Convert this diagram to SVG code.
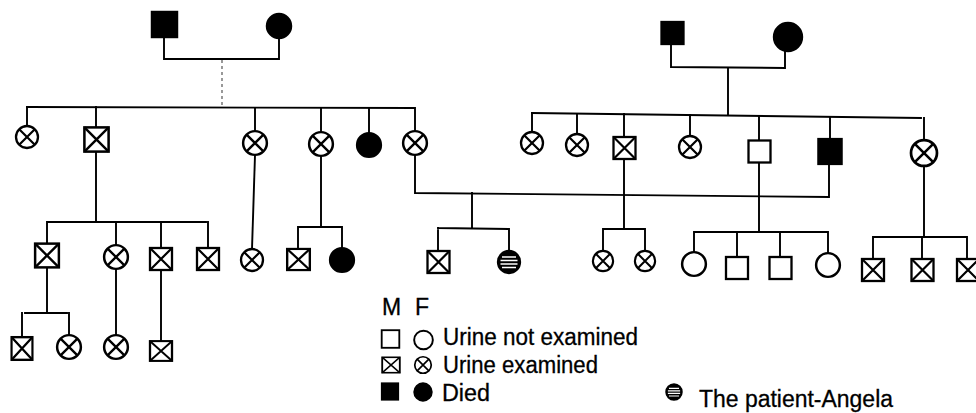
<svg xmlns="http://www.w3.org/2000/svg" xmlns:xlink="http://www.w3.org/1999/xlink" width="976" height="413" viewBox="0 0 976 413">
<style>
.ln{fill:none;stroke:#000;stroke-width:1.9;stroke-linecap:square}
.dash{fill:none;stroke:#555;stroke-width:1.2;stroke-dasharray:3 3}
.txt{font-family:"Liberation Sans",Arial,sans-serif;font-size:23px;fill:#000;stroke:#000;stroke-width:0.3}
</style>
<defs>
<g id="MU"><rect x="-11" y="-11" width="22" height="22" fill="#fff" stroke="#000" stroke-width="2.3"/></g>
<g id="MX"><rect x="-11" y="-11" width="22" height="22" fill="#fff" stroke="#000" stroke-width="2.3"/><path d="M-11,-11L11,11M11,-11L-11,11" stroke="#000" stroke-width="2.2" fill="none"/></g>
<g id="MD"><rect x="-11" y="-11" width="22" height="22" fill="#000" stroke="#000" stroke-width="2.3"/></g>
<g id="FU"><circle r="11" fill="#fff" stroke="#000" stroke-width="2.3"/></g>
<g id="FX"><circle r="11" fill="#fff" stroke="#000" stroke-width="2.3"/><path d="M-7.8,-7.8L7.8,7.8M7.8,-7.8L-7.8,7.8" stroke="#000" stroke-width="2.2" fill="none"/></g>
<g id="FD"><circle r="11" fill="#000" stroke="#000" stroke-width="2.3"/></g>
<g id="FP"><circle r="11" fill="#000" stroke="#000" stroke-width="2.3"/><path d="M-7,-5H7M-8.5,-1.5H8.5M-8.5,2H8.5M-7,5.5H7" stroke="#fff" stroke-width="1.6" fill="none"/></g>
</defs>

<g id="connectors">
<!-- left family -->
<path class="ln" d="M164,37V59H279V38"/>
<path class="dash" d="M222,60V106"/>
<path class="ln" d="M27,107L414,108"/>
<path class="ln" d="M27,107V126M96,107V128M255,108V131M321,108V132M369,108V133M415,108V131"/>
<path class="ln" d="M96,151V222M47,222H206M47,222V244M116,222V245M161,222V248M208,222V248"/>
<path class="ln" d="M255,155L252,249"/>
<path class="ln" d="M321,156V227M298,227H342M298,227V249M342,227V248"/>
<path class="ln" d="M47,267V313M25,313H67M22,313V337M69,313V335"/>
<path class="ln" d="M116,269V335M161,270V341"/>
<!-- right family -->
<path class="ln" d="M671,44V67L785,68V50"/>
<path class="ln" d="M728,68V114"/>
<path class="ln" d="M532,113L921,118"/>
<path class="ln" d="M532,113V132M577,114V134M624,114V137M690,115V136M759,116V140M830,117V139M924,118V140"/>
<!-- marriage -->
<path class="ln" d="M415,155V193L829,197V164"/>
<path class="ln" d="M472,193V228M438,228L509,229M438,228V251M509,229V251"/>
<path class="ln" d="M624,159V229M603,229H645M603,229V251M645,229V251"/>
<path class="ln" d="M759,163V232M694,232H828M694,232V252M737,232V257M780,232V257M828,232V253"/>
<path class="ln" d="M924,166V237M873,237H967M873,237V259M922,237V259M967,237V259"/>
</g>

<!-- Generation I -->
<g id="n-I1"><use xlink:href="#MD" transform="translate(164.5,24.5) scale(1.13)"/></g>
<g id="n-I2"><use xlink:href="#FD" transform="translate(279,26) scale(1.09)"/></g>
<g id="n-I3"><use xlink:href="#MD" transform="translate(672.5,33)"/></g>
<g id="n-I4"><use xlink:href="#FD" transform="translate(788,37) scale(1.25)"/></g>

<!-- Generation II left -->
<g id="n-II1"><use xlink:href="#FX" transform="translate(27,137)"/></g>
<g id="n-II2"><use xlink:href="#MX" transform="translate(96.5,139.5) scale(1.1)"/></g>
<g id="n-II3"><use xlink:href="#FX" transform="translate(255,143) scale(1.08)"/></g>
<g id="n-II4"><use xlink:href="#FX" transform="translate(321,144) scale(1.08)"/></g>
<g id="n-II5"><use xlink:href="#FD" transform="translate(369,145) scale(1.08)"/></g>
<g id="n-II6"><use xlink:href="#FX" transform="translate(415,143) scale(1.08)"/></g>

<!-- Generation II right -->
<g id="n-II7"><use xlink:href="#FX" transform="translate(532,143)"/></g>
<g id="n-II8"><use xlink:href="#FX" transform="translate(577,145)"/></g>
<g id="n-II9"><use xlink:href="#MX" transform="translate(624.5,148)"/></g>
<g id="n-II10"><use xlink:href="#FX" transform="translate(690,147)"/></g>
<g id="n-II11"><use xlink:href="#MU" transform="translate(759.5,151.5)"/></g>
<g id="n-II12"><use xlink:href="#MD" transform="translate(830,151.5) scale(1.05,1.12)"/></g>
<g id="n-II13"><use xlink:href="#FX" transform="translate(924,153) scale(1.18)"/></g>

<!-- Generation III -->
<g id="n-III1"><use xlink:href="#MX" transform="translate(47,255.5) scale(1.08)"/></g>
<g id="n-III2"><use xlink:href="#FX" transform="translate(116,257) scale(1.08)"/></g>
<g id="n-III3"><use xlink:href="#MX" transform="translate(161,259)"/></g>
<g id="n-III4"><use xlink:href="#MX" transform="translate(208,259)"/></g>
<g id="n-III5"><use xlink:href="#FX" transform="translate(252,260)"/></g>
<g id="n-III6"><use xlink:href="#MX" transform="translate(298.5,259.5) scale(1.03,0.96)"/></g>
<g id="n-III7"><use xlink:href="#FD" transform="translate(342,260) scale(1.08)"/></g>
<g id="n-III8"><use xlink:href="#MX" transform="translate(438.5,262)"/></g>
<g id="n-III9-Angela"><use xlink:href="#FP" transform="translate(509,262)"/></g>
<g id="n-III10"><use xlink:href="#FX" transform="translate(603,261) scale(0.92)"/></g>
<g id="n-III11"><use xlink:href="#FX" transform="translate(645,261) scale(0.92)"/></g>
<g id="n-III12"><use xlink:href="#FU" transform="translate(694,264) scale(1.08)"/></g>
<g id="n-III13"><use xlink:href="#MU" transform="translate(737,268)"/></g>
<g id="n-III14"><use xlink:href="#MU" transform="translate(780.5,268)"/></g>
<g id="n-III15"><use xlink:href="#FU" transform="translate(828,265) scale(1.08)"/></g>
<g id="n-III16"><use xlink:href="#MX" transform="translate(873,270)"/></g>
<g id="n-III17"><use xlink:href="#MX" transform="translate(922.5,270)"/></g>
<g id="n-III18"><use xlink:href="#MX" transform="translate(968,270)"/></g>

<!-- Generation IV -->
<g id="n-IV1"><use xlink:href="#MX" transform="translate(22,348.5) scale(0.95,1.03)"/></g>
<g id="n-IV2"><use xlink:href="#FX" transform="translate(69,347) scale(1.08)"/></g>
<g id="n-IV3"><use xlink:href="#FX" transform="translate(116,347) scale(1.08)"/></g>
<g id="n-IV4"><use xlink:href="#MX" transform="translate(161,351) scale(1,0.9)"/></g>

<!-- Legend -->
<g id="legend">
<text class="txt" x="382" y="315">M</text>
<text class="txt" x="415" y="315">F</text>
<use xlink:href="#MU" transform="translate(390.5,339) scale(0.8)"/>
<use xlink:href="#FU" transform="translate(423.5,340) scale(0.85)"/>
<text class="txt" x="443" y="345" textLength="195" lengthAdjust="spacingAndGlyphs">Urine not examined</text>
<use xlink:href="#MX" transform="translate(391,365) scale(0.8,0.7)"/>
<use xlink:href="#FX" transform="translate(423,365) scale(0.75)"/>
<text class="txt" x="443" y="373" textLength="155" lengthAdjust="spacingAndGlyphs">Urine examined</text>
<use xlink:href="#MD" transform="translate(390,391.5) scale(0.75)"/>
<use xlink:href="#FD" transform="translate(423,392) scale(0.8)"/>
<text class="txt" x="442" y="401" textLength="48" lengthAdjust="spacingAndGlyphs">Died</text>
<use xlink:href="#FP" transform="translate(674,392) scale(0.72)"/>
<text class="txt" x="699" y="407" textLength="194" lengthAdjust="spacingAndGlyphs">The patient-Angela</text>
</g>
</svg>
